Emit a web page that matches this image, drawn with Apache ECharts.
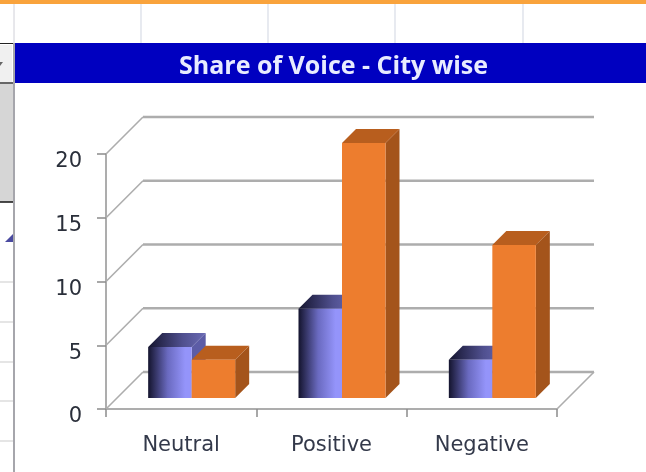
<!DOCTYPE html>
<html>
<head>
<meta charset="utf-8">
<style>html,body{margin:0;padding:0;background:#fff;overflow:hidden}#c{width:646px;height:472px;filter:blur(0.5px)}</style>
<script src="https://cdn.jsdelivr.net/npm/echarts@6/dist/echarts.min.js"></script>
</head>
<body>
<div id="c"></div>
<script>
var categories = ['Neutral', 'Positive', 'Negative'];
var seriesA = [4, 7, 3];
var seriesB = [3, 20, 12];
var yTicks = [0, 5, 10, 15, 20];
var titleText = 'Share of Voice - City wise';

var chart = echarts.init(document.getElementById('c'), null, {renderer: 'canvas'});

var DEPTH = 37, GRID = '#adadad';
var BW = 43.5, BD = 14, SHIFT_X = 10.5, SHIFT_Y = 11;

function walls(params, api) {
  var y = api.coord([0, api.value(0)])[1];
  var cs = params.coordSys, x0 = cs.x, x1 = cs.x + cs.width;
  var kids = [
    {type: 'line', shape: {x1: x0, y1: y, x2: x0 + DEPTH, y2: y - DEPTH}, style: {stroke: GRID, lineWidth: 1.6}},
    {type: 'line', shape: {x1: x0 + DEPTH, y1: y - DEPTH, x2: x1 + DEPTH, y2: y - DEPTH}, style: {stroke: GRID, lineWidth: 2.4}}
  ];
  if (api.value(0) === 0) {
    kids.push({type: 'line', shape: {x1: x1, y1: y, x2: x1 + DEPTH, y2: y - DEPTH},
      style: {stroke: GRID, lineWidth: 1.6}});
  }
  return {type: 'group', children: kids};
}

function bar3d(offset, front, top, side) {
  return function (params, api) {
    var p = api.coord([api.value(0), api.value(1)]);
    var base = api.coord([api.value(0), 0]);
    var xl = p[0] + SHIFT_X + offset * BW, xr = xl + BW;
    var yt = p[1] - SHIFT_Y, yb = base[1] - SHIFT_Y;
    return {type: 'group', children: [
      {type: 'polygon', shape: {points: [[xr, yt], [xr + BD, yt - BD], [xr + BD, yb - BD], [xr, yb]]},
        style: {fill: side}},
      {type: 'polygon', shape: {points: [[xl, yt], [xl + BD, yt - BD], [xr + BD, yt - BD], [xr, yt]]},
        style: {fill: top}},
      {type: 'rect', shape: {x: xl, y: yt, width: BW, height: yb - yt}, style: {fill: front}}
    ]};
  };
}

var blueFront = new echarts.graphic.LinearGradient(0, 0, 1, 0, [
  {offset: 0, color: '#14142e'}, {offset: 0.45, color: '#6a6ac0'}, {offset: 0.85, color: '#9494fa'}, {offset: 1, color: '#9494fa'}
]);
var blueTop = new echarts.graphic.LinearGradient(0, 0, 1, 0, [
  {offset: 0, color: '#14142e'}, {offset: 0.6, color: '#50508f'}, {offset: 1, color: '#6a6ab4'}
]);

var deco = [
  {type: 'rect', shape: {x: 0, y: 0, width: 646, height: 4}, style: {fill: '#f9a33c'}},
  {type: 'rect', shape: {x: 14, y: 43, width: 632, height: 40}, style: {fill: '#0000c0'}},
  {type: 'rect', shape: {x: 0, y: 84, width: 13, height: 118}, style: {fill: '#d6d6d6'}},
  {type: 'rect', shape: {x: 0, y: 45, width: 12, height: 37}, style: {fill: '#f0f0f0'}},
  {type: 'polygon', shape: {points: [[0, 62], [3, 62], [0, 66]]}, style: {fill: '#666'}},
  {type: 'line', shape: {x1: 0, y1: 43.5, x2: 14, y2: 43.5}, style: {stroke: '#222', lineWidth: 1}},
  {type: 'line', shape: {x1: 0, y1: 83, x2: 14, y2: 83}, style: {stroke: '#333', lineWidth: 1.5}},
  {type: 'line', shape: {x1: 14, y1: 4, x2: 14, y2: 43}, style: {stroke: '#d0d0d8', lineWidth: 1}},
  {type: 'line', shape: {x1: 14, y1: 43, x2: 14, y2: 472}, style: {stroke: '#a6a6ac', lineWidth: 2}},
  {type: 'line', shape: {x1: 0, y1: 202, x2: 13, y2: 202}, style: {stroke: '#111', lineWidth: 1.5}},
  {type: 'polygon', shape: {points: [[5, 242], [13, 242], [13, 234]]}, style: {fill: '#4a4aa0'}}
];
[141, 268, 395, 523].forEach(function (x) {
  deco.push({type: 'line', shape: {x1: x, y1: 4, x2: x, y2: 43}, style: {stroke: '#d8dce6', lineWidth: 1.2}});
});
[282, 322, 362, 401, 441].forEach(function (y) {
  deco.push({type: 'line', shape: {x1: 0, y1: y, x2: 13, y2: y}, style: {stroke: '#dcdcdc', lineWidth: 1.5}});
});
deco.forEach(function (d) { d.z = -1; d.silent = true; });

chart.setOption({
  animation: false,
  backgroundColor: '#fff',
  title: {
    text: titleText, left: 328.5, top: 49, textAlign: 'center',
    textStyle: {color: '#e8ecff', fontFamily: '"Open Sans"', fontWeight: 'bold', fontSize: 25}
  },
  graphic: {elements: deco},
  grid: {left: 106, right: 89, top: 154, height: 255},
  xAxis: {
    type: 'category', data: categories,
    axisLine: {show: true, lineStyle: {color: GRID, width: 2}},
    axisTick: {show: true, length: 8, lineStyle: {color: '#8c8c8c', width: 1.5}},
    axisLabel: {color: '#33394a', fontFamily: '"DejaVu Sans"', fontSize: 21, margin: 26},
    splitLine: {show: false}
  },
  yAxis: {
    type: 'value', min: 0, max: 20, interval: 5,
    axisLine: {show: true, lineStyle: {color: GRID, width: 2}},
    axisTick: {show: true, length: 9, lineStyle: {color: '#8c8c8c', width: 1.5}},
    axisLabel: {color: '#2a2f3a', fontFamily: '"DejaVu Sans"', fontSize: 21, margin: 24, verticalAlign: 'top', lineHeight: 16},
    splitLine: {show: false}
  },
  series: [
    {type: 'custom', name: 'wall', renderItem: walls, data: yTicks.map(function (v) { return [v]; }),
      encode: {y: 0}, silent: true, z: 1, clip: false},
    {type: 'custom', name: 'Series 1', renderItem: bar3d(-1, blueFront, blueTop, '#5c5ca6'),
      data: seriesA.map(function (v, i) { return [i, v]; }), encode: {x: 0, y: 1}, z: 2, clip: false},
    {type: 'custom', name: 'Series 2', renderItem: bar3d(0, '#ed7d2e', '#b85e1e', '#a4541b'),
      data: seriesB.map(function (v, i) { return [i, v]; }), encode: {x: 0, y: 1}, z: 3, clip: false}
  ]
});
</script>
</body>
</html>
